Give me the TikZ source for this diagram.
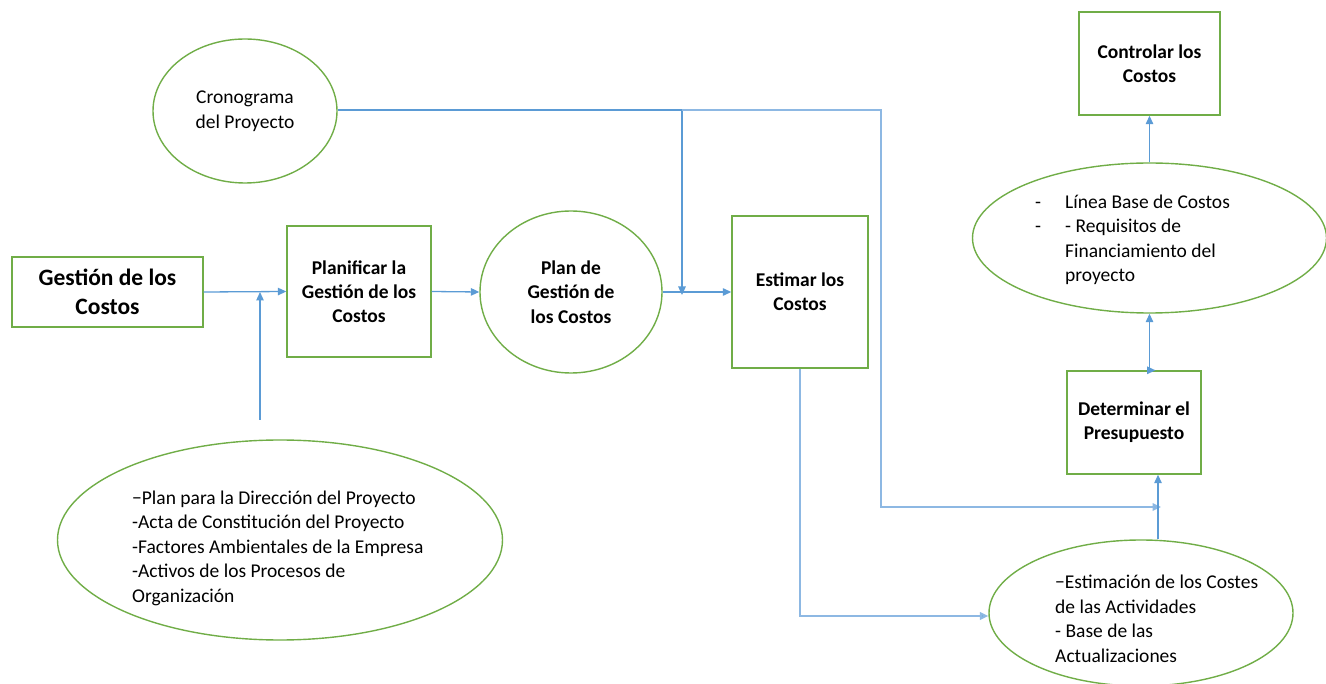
\documentclass[tikz,border=0pt]{standalone}
\usepackage{fontspec}
\setmainfont{Carlito}
\usetikzlibrary{arrows.meta,shapes.geometric}

\definecolor{linkblue}{HTML}{5B9BD5}
\definecolor{linkpale}{HTML}{8DB8E3}
\definecolor{edgegreen}{HTML}{70AD47}

\tikzset{
  procbox/.style={draw=edgegreen, line width=1.4, rectangle, inner sep=0,
    align=center, font=\fontsize{19.5}{24}\selectfont\bfseries},
  dataoval/.style={draw=edgegreen, line width=1.4, ellipse, inner sep=0,
    font=\fontsize{19.5}{24.5}\selectfont},
  textblock/.style={inner sep=0, anchor=west, align=left,
    font=\fontsize{19.5}{24.5}\selectfont},
  arr/.style={draw=linkblue, line width=1.3,
    -{Triangle[length=8.5,width=7.5]}},
  arrthick/.style={draw=linkpale, line width=2.4,
    -{Triangle[length=8.5,width=7.5,fill=linkblue]}},
}

\begin{document}
\begin{tikzpicture}[x=1pt,y=-1pt]
\useasboundingbox (0,0) rectangle (1326,684);

% process boxes
\node[procbox, minimum width=191, minimum height=70,
      font=\fontsize{23.5}{29}\selectfont\bfseries]
  (gest) at (107.5,292) {Gestión de los\\Costos};
\node[procbox, minimum width=144, minimum height=131]
  (plan) at (359,291.5) {Planificar la\\Gestión de los\\Costos};
\node[procbox, minimum width=136, minimum height=152]
  (est) at (800,292) {Estimar los\\Costos};
\node[procbox, minimum width=141, minimum height=103]
  (ctrl) at (1149.5,63.5) {Controlar los\\Costos};
\node[procbox, minimum width=134, minimum height=103]
  (det) at (1134,422.5) {Determinar el\\Presupuesto};

% data ovals with their own text
\node[dataoval, minimum width=182, minimum height=162,
      align=center, font=\fontsize{19.5}{24.5}\selectfont\bfseries]
  (pgc) at (571,292) {Plan de\\Gestión de\\los Costos};
\node[dataoval, minimum width=184, minimum height=144, align=center]
  (cron) at (245,111) {Cronograma\\del Proyecto};

% data ovals whose text sits off-centre
\node[dataoval, minimum width=445, minimum height=200] (inp) at (280,540) {};
\node[textblock] (inpText) at (132,548) {−Plan para la Dirección del Proyecto\\
    -Acta de Constitución del Proyecto\\
    -Factores Ambientales de la Empresa\\
    -Activos de los Procesos de\\
    Organización};

\node[dataoval, minimum width=354, minimum height=150] (lin) at (1149.5,238) {};
\node[textblock] (linText) at (1035,240) {%
    \begin{tabular}{@{}l@{\hspace{24pt}}l@{}}
      - & Línea Base de Costos\\
      - & - Requisitos de\\
        & Financiamiento del\\
        & proyecto
    \end{tabular}};

\node[dataoval, minimum width=304, minimum height=146] (estim) at (1141,613) {};
\node[textblock] (estimText) at (1055,619) {−Estimación de los Costes\\
    de las Actividades\\
    - Base de las\\
    Actualizaciones};

% junction points of the connectors
\coordinate (inTop) at (260,420);
\coordinate (cronSplit) at (682,110);
\coordinate (cronCorner) at (881,110);
\coordinate (budgetJoin) at (1161,507);
\coordinate (riseX) at (1158,0);

% main flow
\draw[arr] (gest.east) -- (plan.west);
\draw[arr] (inTop) -- (inTop |- gest.east);
\draw[arr] (plan.east) -- (pgc.west);
\draw[arr] (pgc.east) -- (est.west);

% schedule feeding the estimate and the budget
\draw[arr] (cron.east |- cronSplit) -- (cronSplit) -- ([yshift=-3]cronSplit |- est.west);
\draw[arrthick] (cronSplit) -- (cronCorner) |- (budgetJoin);

% estimate to activity costs
\draw[arrthick] (est.south) |- ([yshift=-3]estim.west);

% activity costs up to budget, baseline, control
\draw[arr] (riseX |- estim.north) -- (riseX |- det.south);
\draw[arr] (det.north -| ctrl.south) -- (lin.south);
\draw[arr] (det.north -| ctrl.south) -- ++(6,0);
\draw[arr] (lin.north) -- (ctrl.south);
\end{tikzpicture}
\end{document}
